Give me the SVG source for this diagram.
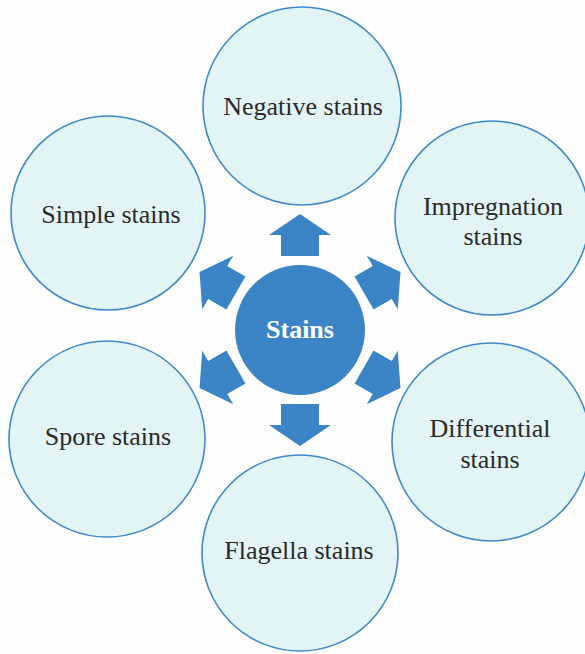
<svg xmlns="http://www.w3.org/2000/svg" width="585" height="654" viewBox="0 0 585 654">
<style>
.outer{fill:#e3f4f7;stroke:#3f88cc;stroke-width:1.6}
.lbl{font-family:"Liberation Serif","Times New Roman",serif;font-size:26px;fill:#2a2a2a;text-anchor:middle}
.ctr{fill:#3b84c6}
.ctrl{font-family:"Liberation Serif","Times New Roman",serif;font-size:26px;font-weight:bold;fill:#ffffff;text-anchor:middle}
.arr{fill:#3b84c6}
</style>
<defs>
<polygon id="arrow" points="-19,-74 19,-74 19,-95 31,-95 0,-116 -31,-95 -19,-95"/>
</defs>
<rect width="585" height="654" fill="#fdfdfd"/>
<g id="connectors">
<use href="#arrow" class="arr" transform="translate(300,330) rotate(0)"/>
<use href="#arrow" class="arr" transform="translate(300,330) rotate(60)"/>
<use href="#arrow" class="arr" transform="translate(300,330) rotate(120)"/>
<use href="#arrow" class="arr" transform="translate(300,330) rotate(180)"/>
<use href="#arrow" class="arr" transform="translate(300,330) rotate(240)"/>
<use href="#arrow" class="arr" transform="translate(300,330) rotate(300)"/>
</g>
<g id="stains">
<circle class="ctr" cx="300" cy="330" r="65"/>
<text class="ctrl" x="300" y="338">Stains</text>
</g>
<g id="negative">
<circle class="outer" cx="302" cy="106" r="99"/>
<text class="lbl" x="303" y="115">Negative stains</text>
</g>
<g id="impregnation">
<circle class="outer" cx="492" cy="218" r="97"/>
<text class="lbl" x="493" y="215">Impregnation</text>
<text class="lbl" x="493" y="245">stains</text>
</g>
<g id="differential">
<circle class="outer" cx="491" cy="442" r="99"/>
<text class="lbl" x="490" y="437">Differential</text>
<text class="lbl" x="490" y="468">stains</text>
</g>
<g id="flagella">
<circle class="outer" cx="300" cy="553" r="98"/>
<text class="lbl" x="299" y="559">Flagella stains</text>
</g>
<g id="spore">
<circle class="outer" cx="107" cy="439" r="98"/>
<text class="lbl" x="108" y="445">Spore stains</text>
</g>
<g id="simple">
<circle class="outer" cx="108" cy="213" r="97"/>
<text class="lbl" x="111" y="223">Simple stains</text>
</g>
</svg>
